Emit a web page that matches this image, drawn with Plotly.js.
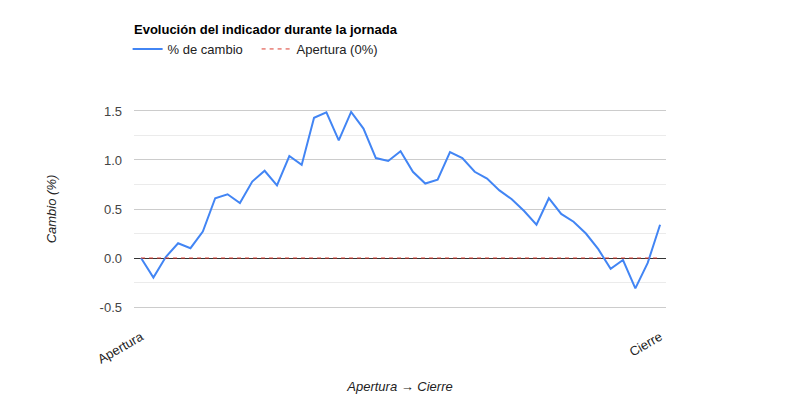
<!DOCTYPE html>
<html>
<head>
<meta charset="utf-8">
<script src="https://cdn.plot.ly/plotly-3.0.1.min.js"></script>
<style>
  html, body { margin: 0; padding: 0; background: #fff; }
  #graph { width: 800px; height: 400px; }
</style>
</head>
<body>
<div id="graph"></div>
<script>
// valores: % de cambio a lo largo de la jornada (43 puntos)
var cambio = [
  0.00, -0.20, 0.01, 0.15, 0.10, 0.27, 0.61, 0.65, 0.56, 0.78,
  0.89, 0.74, 1.04, 0.95, 1.43, 1.485, 1.20, 1.49, 1.32, 1.02,
  0.99, 1.09, 0.88, 0.76, 0.80, 1.08, 1.02, 0.88, 0.81, 0.69,
  0.60, 0.48, 0.34, 0.61, 0.45, 0.37, 0.25, 0.09, -0.11, -0.02,
  -0.31, -0.05, 0.34
];
var tickLabels = ['Apertura', 'Cierre'];
var yTicks = [-0.5, 0, 0.5, 1, 1.5];
var yTickText = ['-0.5', '0.0', '0.5', '1.0', '1.5'];
var minorTicks = [-0.25, 0.25, 0.75, 1.25];

var idx = [];
for (var i = 0; i < cambio.length; i++) idx.push(i);
var apertura = cambio.map(function () { return 0; });

var font = 'Arial, "Liberation Sans", sans-serif';

var trace1 = {
  x: idx,
  y: cambio,
  mode: 'lines',
  type: 'scatter',
  name: '% de cambio',
  line: { color: '#4285f4', width: 2 },
  hoverinfo: 'skip'
};

var trace2 = {
  x: idx,
  y: apertura,
  mode: 'lines',
  type: 'scatter',
  name: 'Apertura (0%)',
  line: { color: '#dc3b2f', width: 1, dash: '4px,4px' },
  hoverinfo: 'skip'
};

var layout = {
  width: 800,
  height: 400,
  margin: { l: 134, r: 134, t: 109, b: 91 },
  paper_bgcolor: '#fff',
  plot_bgcolor: '#fff',
  font: { family: font, size: 13, color: '#444' },
  title: {
    text: '<b>Evolución del indicador durante la jornada</b>',
    font: { family: font, size: 13, color: '#000' },
    x: 134 / 800, xanchor: 'left',
    y: 1 - 29 / 400, yanchor: 'middle'
  },
  showlegend: true,
  legend: {
    orientation: 'h',
    x: -0.012, xanchor: 'left',
    y: 1 - 49 / 400, yanchor: 'middle',
    yref: 'container',
    font: { family: font, size: 13, color: '#222' },
    itemwidth: 30,
    entrywidth: 84,
    tracegroupgap: 0
  },
  xaxis: {
    range: [-0.57, 42.48],
    tickvals: [0, cambio.length - 1],
    ticktext: tickLabels,
    tickangle: -30,
    showgrid: false,
    zeroline: false,
    showline: false,
    ticks: '',
    ticklabelstandoff: 17,
    tickfont: { family: font, size: 13, color: '#222' },
    title: {
      text: '<i>Apertura → Cierre</i>',
      font: { family: font, size: 13, color: '#222' },
      standoff: 16
    },
    fixedrange: true
  },
  yaxis: {
    range: [-0.52, 1.52],
    tickvals: yTicks,
    ticktext: yTickText,
    showgrid: true,
    gridcolor: '#cccccc',
    gridwidth: 1,
    minor: {
      tickvals: minorTicks,
      showgrid: true,
      gridcolor: '#ebebeb',
      gridwidth: 1,
      ticks: ''
    },
    zeroline: true,
    zerolinecolor: '#333333',
    zerolinewidth: 1,
    showline: false,
    ticks: '',
    ticklabelstandoff: 11,
    tickfont: { family: font, size: 13, color: '#444' },
    title: {
      text: '<i>Cambio (%)</i>',
      font: { family: font, size: 13, color: '#222' },
      standoff: 40
    },
    fixedrange: true
  }
};

Plotly.newPlot('graph', [trace1, trace2], layout, { staticPlot: true });
</script>
</body>
</html>
